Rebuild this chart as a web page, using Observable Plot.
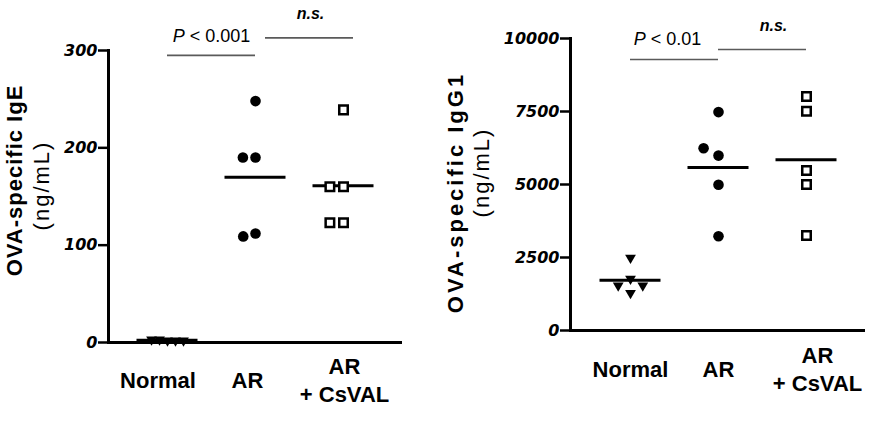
<!DOCTYPE html>
<html><head><meta charset="utf-8">
<script src="https://cdn.jsdelivr.net/npm/d3@7"></script>
<script src="https://cdn.jsdelivr.net/npm/@observablehq/plot@0.6"></script>
<style>
html,body{margin:0;padding:0;background:#fff;}
#chart{position:relative;width:892px;height:424px;}
.panel{position:absolute;top:0;width:446px;height:424px;}
.panel svg{position:absolute;left:0;top:0;overflow:visible;}
</style></head><body><div id="chart"></div>
<script>
// ---- data ----
const groups = ["Normal", "AR", "AR + CsVAL"];
const groupLabels = ["Normal", "AR", "AR\n+ CsVAL"];

const igeNormal = [2, 3, 2, 3, 2];
const igeAR = [248, 190, 190, 112, 109];
const igeCsVAL = [239, 160, 160, 123, 123];
const igeTicks = [0, 100, 200, 300];
const igeSig = [
  {from: 0, to: 1, lineY: 295, textY: 315, label: "P < 0.001"},
  {from: 1, to: 2, lineY: 313, textY: 338, label: "n.s."}
];

const igg1Normal = [2490, 1770, 1540, 1540, 1280];
const igg1AR = [7480, 5990, 6240, 4990, 3230];
const igg1CsVAL = [8010, 7510, 5480, 5000, 3250];
const igg1Ticks = [0, 2500, 5000, 7500, 10000];
const igg1Sig = [
  {from: 0, to: 1, lineY: 9281, textY: 9966, label: "P < 0.01"},
  {from: 1, to: 2, lineY: 9623, textY: 10445, label: "n.s."}
];

// ---- layout / style per panel ----
const panels = [
  {left: 0, title: "OVA-specific IgE", unit: "(ng/mL)", yDomain: [0, 300], ticks: igeTicks,
   data: [igeNormal, igeAR, igeCsVAL], sig: igeSig,
   mL: 108, mR: 44, mT: 50, mB: 82, range: [167, 343],
   labelDx: [-9.5, -8, 1], labelDy: 37,
   titleDx: -94, titleDy: -16, titleSpacing: 1, unitDx: -66.5, unitDy: -11,
   lineDx: [0, 10], textDx: [0, 11],
   triPad: 0, dotPad: 2, sqPad: 4},
  {left: 446, title: "OVA-specific IgG1", unit: "(ng/mL)", yDomain: [0, 10000], ticks: igg1Ticks,
   data: [igg1Normal, igg1AR, igg1CsVAL], sig: igg1Sig,
   mL: 124, mR: 27, mT: 38, mB: 94, range: [184, 360],
   labelDx: [0, 0, 11], labelDy: 37.5,
   titleDx: -115, titleDy: 8, titleSpacing: 3, unitDx: -88.5, unitDy: -12,
   lineDx: [0, 0], textDx: [-7, 11],
   triPad: 6, dotPad: 6, sqPad: 4}
];

const FONT = '"Liberation Sans", Arial, sans-serif';

function basePlot(cfg) {
  const marks = [
    Plot.ruleY([0], {stroke: "black", strokeWidth: 3}),
    Plot.frame({anchor: "left", stroke: "black", strokeWidth: 3}),
    Plot.axisY({ticks: cfg.ticks, tickSize: 10, tickPadding: 1, stroke: "black", strokeWidth: 2.5,
      fontSize: 16, fontWeight: "bold", fontStyle: "italic", fontFamily: "DejaVu Sans",
      tickFormat: d => String(d), label: null}),
    Plot.text([cfg.title], {frameAnchor: "left", textAnchor: "middle", rotate: -90, dx: cfg.titleDx, dy: cfg.titleDy,
      fontSize: 22, fontWeight: "bold", lineAnchor: "middle", fill: "black"}),
    Plot.text([cfg.unit], {frameAnchor: "left", textAnchor: "middle", rotate: -90, dx: cfg.unitDx, dy: cfg.unitDy,
      fontSize: 22, lineAnchor: "middle", fill: "black"})
  ];
  groupLabels.forEach((lab, i) => {
    marks.push(Plot.text([{i, lab}], {x: "i", text: "lab", frameAnchor: "bottom", dy: cfg.labelDy,
      dx: cfg.labelDx[i], lineAnchor: "middle", lineHeight: 1.27, fontSize: 22, fontWeight: "bold", fill: "black"}));
  });
  cfg.sig.forEach((s, k) => {
    marks.push(Plot.ruleY([s], {x1: "from", x2: "to", y: "lineY", dx: cfg.lineDx[k], stroke: "#5a5a5a", strokeWidth: 1.6}));
    const ns = s.label === "n.s.";
    marks.push(Plot.text([s], {x: d => (d.from + d.to) / 2, y: "textY", text: "label", dx: cfg.textDx[k],
      fontSize: ns ? 16 : 18, fontWeight: ns ? "bold" : "normal", fontStyle: ns ? "italic" : "normal",
      lineAnchor: "middle", fill: "black"}));
  });
  return Plot.plot({
    width: 446, height: 424,
    marginLeft: cfg.mL, marginRight: cfg.mR, marginTop: cfg.mT, marginBottom: cfg.mB,
    style: {fontFamily: FONT, background: "transparent", color: "black", overflow: "visible"},
    x: {type: "linear", domain: [0, groups.length - 1], range: cfg.range, axis: null},
    y: {domain: cfg.yDomain},
    marks
  });
}

function overlayPlot(cfg) {
  const step = (cfg.range[1] - cfg.range[0]) / (groups.length - 1);
  const [nRows, aRows, cRows] = cfg.data.map((vals, gi) => vals.map(v => ({group: groups[gi], value: v})));
  const means = cfg.data.map((vals, gi) => ({group: groups[gi], mean: d3.mean(vals)}));
  return Plot.plot({
    width: 446, height: 424,
    marginLeft: cfg.mL, marginRight: cfg.mR, marginTop: cfg.mT, marginBottom: cfg.mB,
    style: {fontFamily: FONT, background: "transparent", overflow: "visible"},
    fx: {domain: groups, range: [cfg.range[0] - step / 2, cfg.range[1] + step / 2], padding: 0, axis: null},
    y: {domain: cfg.yDomain, axis: null},
    marks: [
      Plot.tickY(means, {fx: "group", y: "mean", stroke: "black", strokeWidth: 3, insetLeft: 13.5, insetRight: 13.5}),
      Plot.dot(nRows, Plot.dodgeX({anchor: "middle", padding: cfg.triPad},
        {fx: "group", y: "value", r: 4, symbol: "triangle", rotate: 180, fill: "black"})),
      Plot.dot(aRows, Plot.dodgeX({anchor: "middle", padding: cfg.dotPad},
        {fx: "group", y: "value", r: 5.3, fill: "black"})),
      Plot.dot(cRows, Plot.dodgeX({anchor: "middle", padding: cfg.sqPad},
        {fx: "group", y: "value", r: 4.8, symbol: "square", fill: "white", stroke: "black", strokeWidth: 2.5}))
    ]
  });
}

function tidy(svg, cfg) {
  d3.select(svg).selectAll("text").each(function () {
    const t = this.textContent;
    const sel = d3.select(this);
    if (t.startsWith("P <")) {
      sel.text(null);
      sel.append("tspan").attr("font-style", "italic").text("P");
      sel.append("tspan").text(t.slice(1));
    } else if (t === cfg.title) {
      sel.style("letter-spacing", cfg.titleSpacing + "px");
    } else if (t === cfg.unit) {
      sel.style("letter-spacing", "2px");
    }
  });
}

const chart = document.getElementById("chart");
for (const cfg of panels) {
  const div = document.createElement("div");
  div.className = "panel";
  div.style.left = cfg.left + "px";
  const base = basePlot(cfg);
  tidy(base, cfg);
  div.appendChild(base);
  div.appendChild(overlayPlot(cfg));
  chart.appendChild(div);
}
</script>
</body></html>
